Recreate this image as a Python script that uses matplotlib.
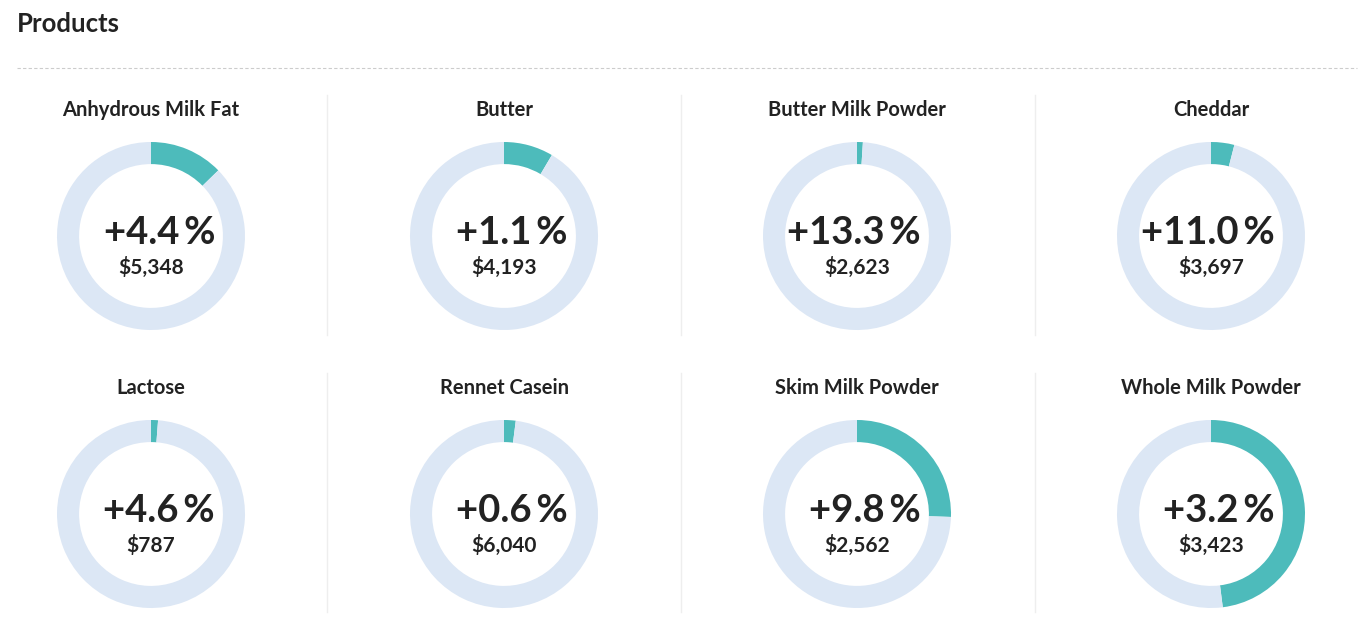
import matplotlib
matplotlib.use("Agg")
from matplotlib import pyplot as plt
from matplotlib.lines import Line2D

plt.rcParams["font.family"] = ["Lato", "DejaVu Sans"]

# chart data
products = [
    "Anhydrous Milk Fat", "Butter", "Butter Milk Powder", "Cheddar",
    "Lactose", "Rennet Casein", "Skim Milk Powder", "Whole Milk Powder",
]
changes = ["+4.4", "+1.1", "+13.3", "+11.0", "+4.6", "+0.6", "+9.8", "+3.2"]
prices = ["$5,348", "$4,193", "$2,623", "$3,697", "$787", "$6,040", "$2,562", "$3,423"]
shares = [0.127, 0.085, 0.01, 0.04, 0.012, 0.02, 0.255, 0.48]

W, H = 1359, 627
TEAL = "#4dbbbb"
RING = "#dce7f5"
TEXT = "#222222"

fig = plt.figure(figsize=(W / 100, H / 100), dpi=100)


def fx(x):
    return x / W


def fy(y):
    return 1 - y / H


fig.text(fx(17), fy(32), "Products", fontsize=18.5, fontweight="bold",
         color=TEXT, ha="left", va="baseline")
fig.add_artist(Line2D([fx(17), fx(1357)], [fy(68), fy(68)], color="#cccccc",
                      linewidth=0.8, linestyle=(0, (3, 2))))

col_x = [151, 504, 857, 1211]
row_y = [236, 514]
sep_x = [327, 681, 1035]
sep_y = [(95, 335), (373, 612)]
radius = 94

for ys in sep_y:
    for sx in sep_x:
        fig.add_artist(Line2D([fx(sx), fx(sx)], [fy(ys[0]), fy(ys[1])],
                              color="#eeeeee", linewidth=1))

for i, name in enumerate(products):
    cx = col_x[i % 4]
    cy = row_y[i // 4]
    ax = fig.add_axes([fx(cx - radius), fy(cy + radius),
                       2 * radius / W, 2 * radius / H])
    ax.pie([shares[i], 1 - shares[i]], colors=[TEAL, RING], startangle=90,
           counterclock=False, radius=1,
           wedgeprops={"width": 0.235, "linewidth": 0})
    ax.set_xlim(-1, 1)
    ax.set_ylim(-1, 1)
    ax.set_aspect("equal")
    ax.axis("off")

    fig.text(fx(cx), fy(cy - 120), name, fontsize=14.5, fontweight="bold",
             color=TEXT, ha="center", va="baseline")
    fig.text(fx(cx + 64), fy(cy + 8), changes[i] + "\u2009%", fontsize=27.5,
             fontweight="bold", color=TEXT, ha="right", va="baseline")
    fig.text(fx(cx), fy(cy + 38), prices[i], fontsize=15, fontweight="bold",
             color=TEXT, ha="center", va="baseline")

fig.savefig("out.png", dpi=100)
